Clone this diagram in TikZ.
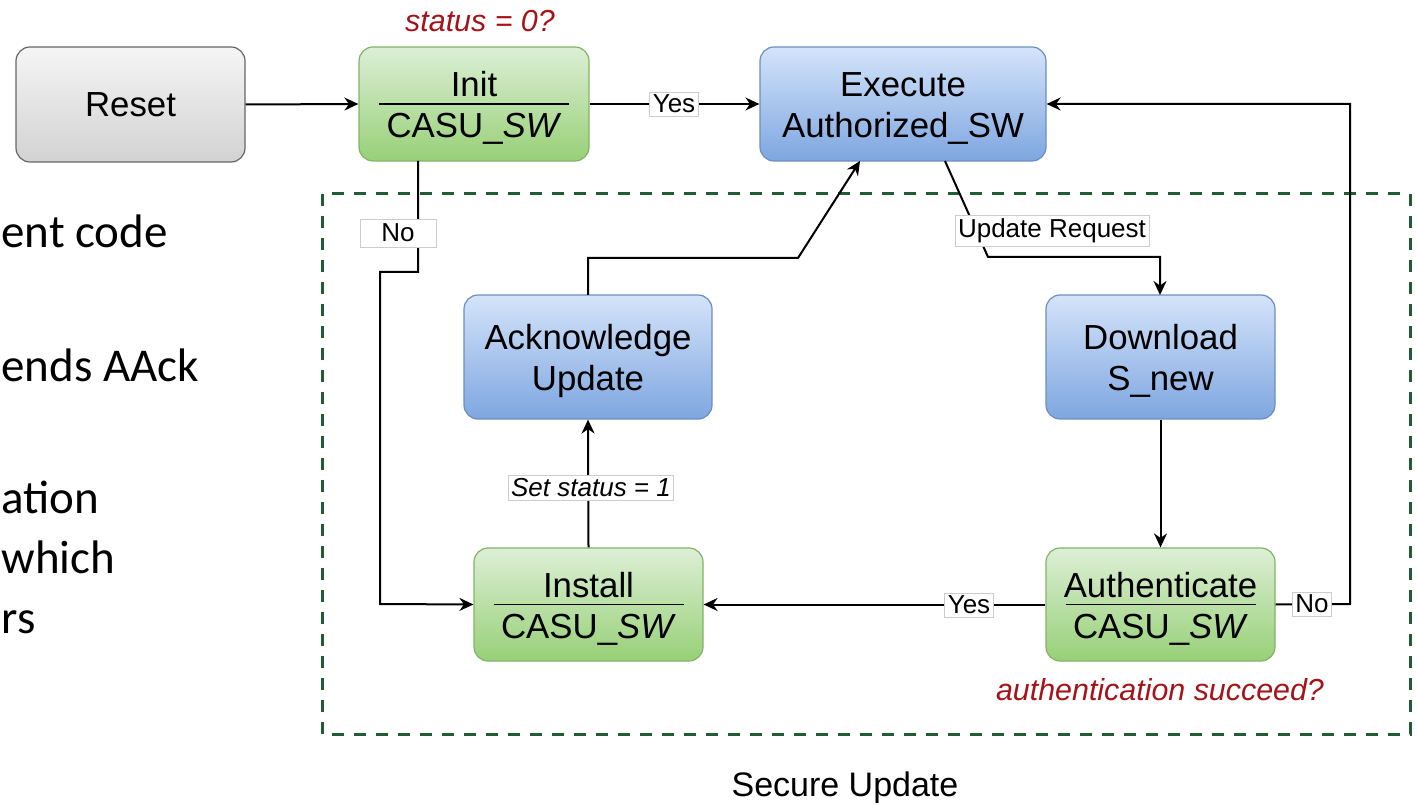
\documentclass[tikz,border=0pt]{standalone}
\usepackage{fontspec}
\setmainfont{Liberation Sans}
\newfontfamily\calibrifont{Carlito}
\usetikzlibrary{arrows.meta}
\definecolor{grnT}{HTML}{DDEFD6}
\definecolor{grnB}{HTML}{97D077}
\definecolor{grnD}{HTML}{82B366}
\definecolor{bluT}{HTML}{D4E4FA}
\definecolor{bluB}{HTML}{7EA6E0}
\definecolor{bluD}{HTML}{6C8EBF}
\definecolor{gryT}{HTML}{F5F5F5}
\definecolor{gryB}{HTML}{D2D2D2}
\definecolor{gryD}{HTML}{666666}
\definecolor{dgreen}{RGB}{34,92,52}
\definecolor{dred}{RGB}{165,18,24}
\definecolor{lblgray}{HTML}{CCCCCC}
\newcommand\myNodeFont{\fontsize{17.4}{20.5}\selectfont}
\newcommand\myLblFont{\fontsize{13}{15}\selectfont}
\newcommand\myRedFont{\fontsize{15.2}{18}\selectfont\itshape}
\newcommand\mySideFont{\calibrifont\fontsize{23.5}{28}\selectfont}
\newcommand\topstrut{\rule{0pt}{16.5pt}}
\begin{document}
\begin{tikzpicture}[x=0.5pt,y=-0.5pt,
  box/.style={rounded corners=7pt, draw, line width=0.6pt, inner sep=0pt, align=center, font=\myNodeFont},
  greybox/.style={box, draw=gryD, top color=gryT, bottom color=gryB},
  greenbox/.style={box, draw=grnD, top color=grnT, bottom color=grnB},
  bluebox/.style={box, draw=bluD, top color=bluT, bottom color=bluB},
  lbl/.style={fill=white, draw=lblgray, line width=0.4pt, inner sep=1.5pt, font=\myLblFont},
  conn/.style={line width=1pt, -{Stealth[length=7pt,width=6.5pt]}},
  divider/.style={line width=0.8pt},
  redtxt/.style={text=dred, font=\myRedFont},
  sidetxt/.style={font=\mySideFont, anchor=base west, inner sep=0pt}
]
\useasboundingbox (0,0) rectangle (1417,806);

% secure update region
\draw[dgreen, line width=1.5pt, dash pattern=on 6pt off 5pt] (322,194) rectangle (1410,734);
\node[font=\fontsize{17}{20}\selectfont] (secure) at (845,788) {Secure Update};

% side text fragments
\node[sidetxt] (s1) at (1,248) {ent code};
\node[sidetxt] (s2) at (1,382) {ends AAck};
\node[sidetxt] (s3) at (1,513) {ation};
\node[sidetxt] (s4) at (1,573) {which};
\node[sidetxt] (s5) at (1,633) {rs};

% nodes
\node[greybox, minimum width=114.5pt, minimum height=57.5pt] (reset) at (130.5,104.5) {Reset};
\node[greenbox, minimum width=115pt, minimum height=57pt] (init) at (474,104) {\topstrut Init\\CASU\_\textit{SW}};
\node[bluebox, minimum width=143pt, minimum height=57pt] (exec) at (903,104) {\topstrut Execute\\Authorized\_SW};
\node[bluebox, minimum width=124pt, minimum height=62pt] (ack) at (588,357) {\topstrut Acknowledge\\Update};
\node[bluebox, minimum width=114.5pt, minimum height=62pt] (down) at (1160.5,357) {\topstrut Download\\S\_new};
\node[greenbox, minimum width=114.5pt, minimum height=56.5pt] (inst) at (588.5,604.5) {\topstrut Install\\CASU\_\textit{SW}};
\node[greenbox, minimum width=114.5pt, minimum height=56.5pt] (auth) at (1160.5,604.5) {\topstrut Authenticate\\CASU\_\textit{SW}};

\draw[divider] ([xshift=-47.5pt]init.center) -- ([xshift=47.5pt]init.center);
\draw[divider] ([xshift=-47.5pt]inst.center) -- ([xshift=47.5pt]inst.center);
\draw[divider] ([xshift=-47.5pt]auth.center) -- ([xshift=47.5pt]auth.center);

\node[redtxt] (q1) at (480,21) {status = 0?};
\node[redtxt] (q2) at (1160,690) {authentication succeed?};

% helper coordinates
\coordinate (initNo) at (418,161);
\coordinate (execUR) at (945,161);
\coordinate (execIn) at (860,161);
\coordinate (downTop) at (1160,295);
\coordinate (ackTop) at (588,295);

% connectors
\draw[conn] (reset.east) -- (init.west);
\draw[conn] (init.east) -- (exec.west);
\node[lbl] (yes1) at (674,104) {Yes};

\draw[conn] (initNo) -- (418,272) -- (380,272) -- (380,604) -- (inst.west);
\node[lbl, minimum width=38pt, minimum height=14pt] (no1) at (398,233) {No};

\draw[conn] (execUR) -- (988,257) -- (1160,257) -- (downTop);
\node[lbl] (upd) at (1052,231) {Update Request};

\draw[conn] (down.south) -- (auth.north);

\draw[conn] (auth.west) -- (inst.east);
\node[lbl] (yes2) at (969,605) {Yes};

\draw[conn] (auth.east) -- (1350,604) -- (1350,104) -- (exec.east);
\node[lbl] (no2) at (1312,604) {No};

\draw[conn] (inst.north) -- (ack.south);
\node[lbl, font=\myLblFont\itshape] (set) at (591,488) {Set status = 1};

\draw[conn] (ackTop) -- (588,258) -- (798,258) -- (execIn);
\end{tikzpicture}
\end{document}
